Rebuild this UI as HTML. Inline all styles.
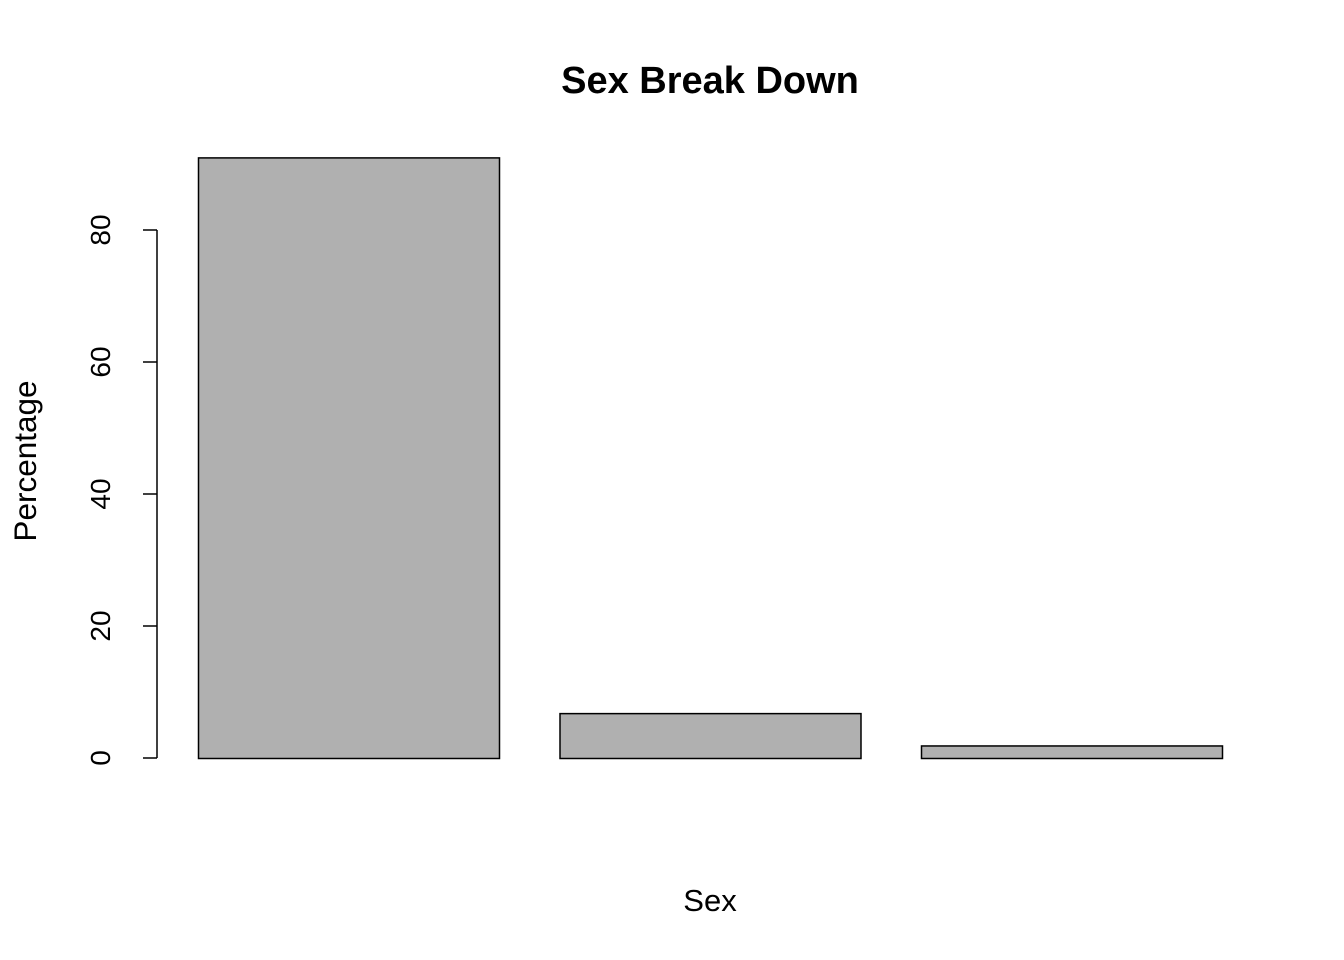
<!DOCTYPE html>
<html><head><meta charset="utf-8"><style>
body{margin:0;background:#fff;}
svg{display:block;font-family:"Liberation Sans",Arial,sans-serif;}
</style></head><body>
<svg id="chart" width="1344" height="960" viewBox="0 0 1344 960">
<text x="710" y="93" text-anchor="middle" font-size="38" font-weight="bold">Sex Break Down</text>
<text x="710" y="911" text-anchor="middle" font-size="31">Sex</text>
<text x="0" y="0" transform="translate(36,461) rotate(-90)" text-anchor="middle" font-size="31.5">Percentage</text>
<g id="bars"></g>
<g id="yaxis"></g>
</svg>
<script>
const categories = ["A", "B", "C"];
const values = [91.0, 6.8, 1.9];
const yTicks = [0, 20, 40, 60, 80];
const ns = "http://www.w3.org/2000/svg";
const y0 = 758, pxPerUnit = 6.6;
function yScale(v){ return y0 - v * pxPerUnit; }
const barW = 301, gap = 60.5, xStart = 198;
function xScale(i){ return xStart + i * (barW + gap); }
const bars = document.getElementById("bars");
values.forEach((v, i) => {
  const r = document.createElementNS(ns, "rect");
  r.setAttribute("x", xScale(i) + 0.5);
  r.setAttribute("y", yScale(v) + 0.5);
  r.setAttribute("width", barW);
  r.setAttribute("height", y0 - yScale(v));
  r.setAttribute("fill", "#b0b0b0");
  r.setAttribute("stroke", "#000");
  r.setAttribute("stroke-width", "1.5");
  
  
  bars.appendChild(r);
});
const ya = document.getElementById("yaxis");
const axisLine = document.createElementNS(ns, "line");
axisLine.setAttribute("x1", 157); axisLine.setAttribute("x2", 157);
axisLine.setAttribute("y1", yScale(yTicks[0])); axisLine.setAttribute("y2", yScale(yTicks[yTicks.length-1]));
axisLine.setAttribute("stroke", "#000"); axisLine.setAttribute("stroke-width", "1.5");


ya.appendChild(axisLine);
yTicks.forEach(t => {
  const y = yScale(t);
  const l = document.createElementNS(ns, "line");
  l.setAttribute("x1", 143); l.setAttribute("x2", 157);
  l.setAttribute("y1", y); l.setAttribute("y2", y);
  l.setAttribute("stroke", "#000"); l.setAttribute("stroke-width", "1.5");
  
  
  ya.appendChild(l);
  const tx = document.createElementNS(ns, "text");
  tx.setAttribute("transform", "translate(110," + y + ") rotate(-90)");
  tx.setAttribute("text-anchor", "middle");
  tx.setAttribute("font-size", "28");
  tx.textContent = t;
  
  
  ya.appendChild(tx);
});
</script>
</body></html>
